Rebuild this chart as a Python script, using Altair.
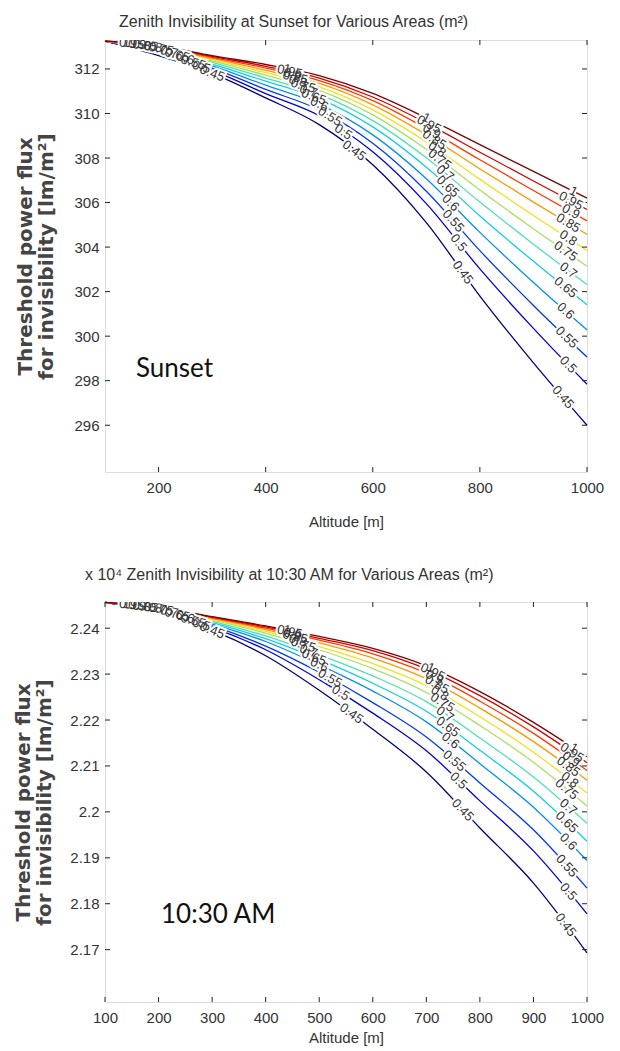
import math
import altair as alt
import numpy as np
import pandas as pd

# ---------------- data ----------------
ALTITUDE = [100, 200, 300, 400, 500, 600, 700, 800, 900, 1000]
LEVEL_TEXT = ["0.45", "0.5", "0.55", "0.6", "0.65", "0.7", "0.75", "0.8", "0.85", "0.9", "0.95", "1"]
JET_COLORS = ["#000080", "#0000d0", "#0038f0", "#0090f0", "#10d0e0", "#50e0b0",
              "#a8e060", "#f0e020", "#ff9800", "#ff3a00", "#d00000", "#800000"]

# Sunset panel (threshold power flux, lm/m^2)
SUNSET_045 = [313.25, 312.60, 311.80, 310.70, 309.50, 307.70, 305.10, 301.80, 298.80, 296.00]
SUNSET_050 = [313.25, 312.68, 311.94, 310.89, 309.90, 308.28, 305.95, 303.02, 300.35, 297.84]
SUNSET_055 = [313.25, 312.74, 312.04, 311.08, 310.16, 308.66, 306.51, 303.84, 301.38, 299.06]
SUNSET_060 = [313.25, 312.79, 312.14, 311.27, 310.42, 309.04, 307.07, 304.66, 302.41, 300.28]
SUNSET_065 = [313.25, 312.84, 312.22, 311.45, 310.67, 309.40, 307.59, 305.40, 303.36, 301.41]
SUNSET_070 = [313.25, 312.88, 312.30, 311.59, 310.86, 309.68, 308.01, 306.02, 304.13, 302.32]
SUNSET_075 = [313.25, 312.92, 312.36, 311.72, 311.04, 309.94, 308.39, 306.56, 304.82, 303.14]
SUNSET_080 = [313.25, 312.95, 312.42, 311.83, 311.19, 310.16, 308.72, 307.04, 305.42, 303.85]
SUNSET_085 = [313.25, 312.98, 312.47, 311.94, 311.35, 310.39, 309.05, 307.51, 306.02, 304.57]
SUNSET_090 = [313.25, 313.00, 312.52, 312.04, 311.48, 310.58, 309.33, 307.92, 306.54, 305.18]
SUNSET_095 = [313.25, 313.03, 312.56, 312.12, 311.59, 310.74, 309.57, 308.26, 306.97, 305.69]
SUNSET_100 = [313.25, 313.05, 312.60, 312.20, 311.70, 310.90, 309.80, 308.60, 307.40, 306.20]

# 10:30 AM panel (threshold power flux, x 10^4 lm/m^2)
MORNING_045 = [2.2456, 2.2432, 2.2395, 2.2340, 2.2265, 2.2180, 2.2087, 2.1965, 2.1845, 2.1693]
MORNING_050 = [2.2456, 2.2435, 2.2401, 2.2353, 2.2288, 2.2215, 2.2133, 2.2024, 2.1915, 2.1778]
MORNING_055 = [2.2456, 2.2436, 2.2405, 2.2361, 2.2304, 2.2238, 2.2163, 2.2063, 2.1961, 2.1834]
MORNING_060 = [2.2456, 2.2438, 2.2409, 2.2371, 2.2320, 2.2263, 2.2196, 2.2105, 2.2010, 2.1894]
MORNING_065 = [2.2456, 2.2439, 2.2412, 2.2377, 2.2332, 2.2280, 2.2219, 2.2134, 2.2045, 2.1936]
MORNING_070 = [2.2456, 2.2441, 2.2415, 2.2383, 2.2342, 2.2296, 2.2240, 2.2161, 2.2076, 2.1975]
MORNING_075 = [2.2456, 2.2442, 2.2418, 2.2389, 2.2353, 2.2312, 2.2260, 2.2188, 2.2108, 2.2013]
MORNING_080 = [2.2456, 2.2443, 2.2419, 2.2393, 2.2360, 2.2323, 2.2275, 2.2207, 2.2130, 2.2041]
MORNING_085 = [2.2456, 2.2443, 2.2421, 2.2397, 2.2368, 2.2335, 2.2290, 2.2226, 2.2153, 2.2069]
MORNING_090 = [2.2456, 2.2444, 2.2423, 2.2400, 2.2374, 2.2344, 2.2302, 2.2241, 2.2171, 2.2090]
MORNING_095 = [2.2456, 2.2445, 2.2424, 2.2403, 2.2378, 2.2351, 2.2311, 2.2253, 2.2185, 2.2107]
MORNING_100 = [2.2456, 2.2445, 2.2425, 2.2405, 2.2382, 2.2356, 2.2318, 2.2262, 2.2195, 2.2120]

# altitudes where the contour labels sit (one per level, per label group)
SUNSET_LABEL_A = [300, 280, 265, 250, 235, 220, 205, 190, 175, 160, 150, 140]
SUNSET_LABEL_B = [565, 545, 520, 500, 490, 480, 470, 460, 455, 450, 445, 440]
SUNSET_LABEL_C = [768, 760, 750, 745, 740, 735, 725, 720, 715, 710, 705, 700]
SUNSET_LABEL_D = [955, 965, 962, 960, 960, 965, 960, 965, 965, 970, 970, 975]
MORNING_LABEL_A = [300, 280, 265, 250, 235, 220, 205, 190, 175, 160, 150, 140]
MORNING_LABEL_B = [560, 540, 520, 500, 490, 480, 470, 460, 455, 450, 445, 440]
MORNING_LABEL_C = [768, 760, 752, 745, 740, 735, 730, 725, 720, 715, 712, 708]
MORNING_LABEL_D = [960, 965, 962, 965, 962, 965, 962, 968, 965, 970, 972, 975]

SUNSET_YDOMAIN = [293.9, 313.3]
SUNSET_YTICKS = [296, 298, 300, 302, 304, 306, 308, 310, 312]
SUNSET_XTICKS = [200, 400, 600, 800, 1000]
MORNING_YDOMAIN = [2.1586, 2.2457]
MORNING_YTICKS = [2.17, 2.18, 2.19, 2.20, 2.21, 2.22, 2.23, 2.24]
MORNING_XTICKS = [100, 200, 300, 400, 500, 600, 700, 800, 900, 1000]

Y_TITLE = ["Threshold power flux", "for invisibility [lm/m\u00b2]"]
SUNSET_TITLE = "Zenith Invisibility at Sunset for Various Areas (m\u00b2)"
MORNING_TITLE = "x 10\u2074 Zenith Invisibility at 10:30 AM for Various Areas (m\u00b2)"

FONT = "Liberation Sans, Arial, sans-serif"
INK = "#333333"


def panel(series, label_groups, ydomain, yticks, xticks, yformat, title_text,
          title_offset, title_dx, note_text, note_x, note_y, width, height,
          ytitle_pad, xtitle_pad):
    rows = []
    for lvl, vals in zip(LEVEL_TEXT, series):
        for a, v in zip(ALTITUDE, vals):
            rows.append({"alt": a, "val": v, "level": lvl})
    lines_df = pd.DataFrame(rows)

    xs = alt.Scale(domain=[100, 1000], nice=False, zero=False)
    ys = alt.Scale(domain=ydomain, nice=False, zero=False)
    kx = width / 900.0
    ky = height / (ydomain[1] - ydomain[0])

    lab = []
    for group in label_groups:
        for lvl, vals, a in zip(LEVEL_TEXT, series, group):
            v = float(np.interp(a, ALTITUDE, vals))
            v0 = float(np.interp(a - 15, ALTITUDE, vals))
            v1 = float(np.interp(a + 15, ALTITUDE, vals))
            ang = math.degrees(math.atan2((v0 - v1) * ky, 30 * kx))
            lab.append({"alt": a, "val": v, "text": lvl, "angle": max(ang, 0.0)})
    lab_df = pd.DataFrame(lab)

    x_axis = alt.Axis(values=xticks, format="d", title="Altitude [m]", ticks=False,
                      domain=False, grid=False, labelFont=FONT, labelFontSize=15,
                      labelColor=INK, labelPadding=8, titleFont=FONT, titleFontSize=15,
                      titleFontWeight="normal", titleColor=INK, titlePadding=xtitle_pad,
                      labelFlush=False)
    y_axis = alt.Axis(values=yticks, format=yformat, title=Y_TITLE, ticks=False,
                      domain=False, grid=False, labelFont=FONT, labelFontSize=15,
                      labelColor=INK, labelPadding=6, titleFont="DejaVu Sans",
                      titleFontSize=20, titleFontWeight="bold", titleColor="#444444",
                      titleLineHeight=21, titlePadding=ytitle_pad, labelFlush=False)

    X = alt.X("alt:Q", scale=xs, axis=x_axis)
    Y = alt.Y("val:Q", scale=ys, axis=y_axis)

    lines = alt.Chart(lines_df).mark_line(strokeWidth=1.3, interpolate="monotone").encode(
        x=X, y=Y,
        color=alt.Color("level:N", scale=alt.Scale(domain=LEVEL_TEXT, range=JET_COLORS),
                        legend=None),
        detail="level:N",
    )

    ty = pd.DataFrame({"val": yticks})
    tx = pd.DataFrame({"alt": xticks})
    tick_style = dict(color="#222222", strokeWidth=1)
    t_left = alt.Chart(ty).mark_rule(**tick_style).encode(y=Y, x=alt.value(0), x2=alt.value(5))
    t_right = alt.Chart(ty).mark_rule(**tick_style).encode(
        y=Y, x=alt.value(width - 5), x2=alt.value(width))
    t_top = alt.Chart(tx).mark_rule(**tick_style).encode(x=X, y=alt.value(0), y2=alt.value(5))
    t_bot = alt.Chart(tx).mark_rule(**tick_style).encode(
        x=X, y=alt.value(height - 5), y2=alt.value(height))

    text_enc = dict(x=X, y=Y, text="text:N", angle=alt.Angle("angle:Q", scale=None))
    halo = alt.Chart(lab_df).mark_text(font=FONT, fontSize=13, color="white", stroke="white",
                                       strokeWidth=4, clip=True).encode(**text_enc)
    labels = alt.Chart(lab_df).mark_text(font=FONT, fontSize=13, color=INK,
                                         clip=True).encode(**text_enc)

    note = alt.Chart(pd.DataFrame({"t": [note_text]})).mark_text(
        font="Lato", fontSize=26, align="left", baseline="middle", color="#111111"
    ).encode(x=alt.value(note_x), y=alt.value(note_y), text="t:N")

    return alt.layer(lines, t_left, t_right, t_top, t_bot, halo, labels, note).properties(
        width=width, height=height,
        title=alt.TitleParams(text=title_text, anchor="start", frame="group", dx=title_dx,
                              offset=title_offset, font=FONT, fontSize=16,
                              fontWeight="normal", color=INK),
    )


sunset_series = [SUNSET_045, SUNSET_050, SUNSET_055, SUNSET_060, SUNSET_065, SUNSET_070,
                 SUNSET_075, SUNSET_080, SUNSET_085, SUNSET_090, SUNSET_095, SUNSET_100]
morning_series = [MORNING_045, MORNING_050, MORNING_055, MORNING_060, MORNING_065, MORNING_070,
                  MORNING_075, MORNING_080, MORNING_085, MORNING_090, MORNING_095, MORNING_100]

top = panel(sunset_series, [SUNSET_LABEL_A, SUNSET_LABEL_B, SUNSET_LABEL_C, SUNSET_LABEL_D],
            SUNSET_YDOMAIN, SUNSET_YTICKS, SUNSET_XTICKS, "d", SUNSET_TITLE, 9, 14,
            "Sunset", 31, 329, 482, 432, 17, 19)
bottom = panel(morning_series, [MORNING_LABEL_A, MORNING_LABEL_B, MORNING_LABEL_C, MORNING_LABEL_D],
               MORNING_YDOMAIN, MORNING_YTICKS, MORNING_XTICKS, ".2~f", MORNING_TITLE, 17, -20,
               "10:30 AM", 56, 313, 482, 400, 15, 5)

chart = alt.vconcat(top, bottom, spacing=36).configure_view(
    stroke="#333333", strokeWidth=1.2
).configure(background="white")

chart.save("out.html", embed_options={"renderer": "svg", "actions": False})
